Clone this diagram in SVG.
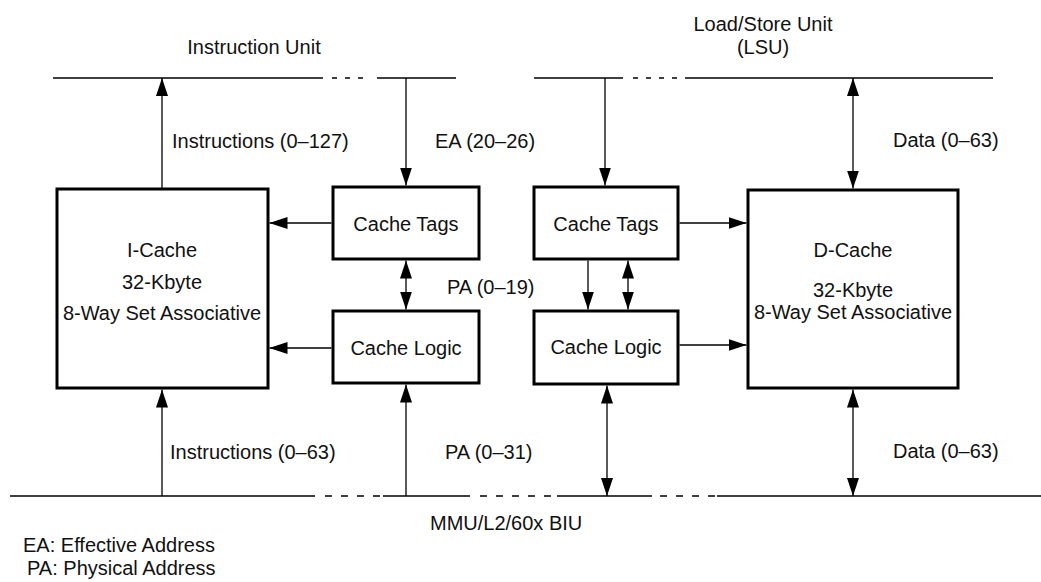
<svg xmlns="http://www.w3.org/2000/svg" width="1041" height="582" viewBox="0 0 1041 582">
<style>
text{font-family:"Liberation Sans",Arial,sans-serif;font-size:20px;fill:#111}
.c{text-anchor:middle}
.box{fill:#fff;stroke:#000;stroke-width:3}
.ln{stroke:#000;stroke-width:1.3;fill:none}
.d1{stroke-dasharray:5 8}
.d2{stroke-dasharray:7 9}
.a1{marker-end:url(#ah)}
.a2{marker-start:url(#ah);marker-end:url(#ah)}
</style>
<defs>
<marker id="ah" viewBox="0 0 18 12" refX="18" refY="6" markerWidth="18" markerHeight="12" markerUnits="userSpaceOnUse" orient="auto-start-reverse"><path d="M0,0 L18,6 L0,12 z" fill="#000"/></marker>
</defs>
<rect width="1041" height="582" fill="#fff"/>
<g id="buses">
<line class="ln" x1="53" y1="78" x2="323" y2="78"/>
<line class="ln d1" x1="332" y1="78" x2="366" y2="78"/>
<line class="ln" x1="377" y1="78" x2="456" y2="78"/>
<line class="ln" x1="534" y1="78" x2="623" y2="78"/>
<line class="ln d1" x1="633" y1="78" x2="679" y2="78"/>
<line class="ln" x1="685" y1="78" x2="993" y2="78"/>
<line class="ln" x1="10" y1="496" x2="315" y2="496"/>
<line class="ln d2" x1="325" y1="496" x2="381" y2="496"/>
<line class="ln" x1="383" y1="496" x2="470" y2="496"/>
<line class="ln d2" x1="480" y1="496" x2="554" y2="496"/>
<line class="ln" x1="557" y1="496" x2="652" y2="496"/>
<line class="ln d2" x1="660" y1="496" x2="716" y2="496"/>
<line class="ln" x1="717" y1="496" x2="1041" y2="496"/>
<text class="c" x="254" y="54">Instruction Unit</text>
<text class="c" x="763" y="31">Load/Store Unit</text>
<text class="c" x="763" y="54">(LSU)</text>
<text x="430" y="530">MMU/L2/60x BIU</text>
</g>
<g id="connectors">
<line class="ln a1" x1="162" y1="188" x2="162" y2="78"/>
<line class="ln a1" x1="406" y1="78" x2="406" y2="185.5"/>
<line class="ln a1" x1="331.5" y1="223" x2="269.5" y2="223"/>
<line class="ln a1" x1="331.5" y1="348" x2="269.5" y2="348"/>
<line class="ln a2" x1="406" y1="260.5" x2="406" y2="309.5"/>
<line class="ln a1" x1="162" y1="496" x2="162" y2="389.5"/>
<line class="ln a1" x1="406" y1="496" x2="406" y2="384.5"/>
<line class="ln a1" x1="605" y1="78" x2="605" y2="185.5"/>
<line class="ln a1" x1="679.5" y1="223" x2="746.5" y2="223"/>
<line class="ln a1" x1="679.5" y1="345" x2="746.5" y2="345"/>
<line class="ln a1" x1="588" y1="260.5" x2="588" y2="309.5"/>
<line class="ln a2" x1="628" y1="260.5" x2="628" y2="309.5"/>
<line class="ln a2" x1="853" y1="78" x2="853" y2="188.5"/>
<line class="ln a2" x1="607" y1="385.5" x2="607" y2="496"/>
<line class="ln a2" x1="853" y1="389.5" x2="853" y2="496"/>
<text x="172" y="148">Instructions (0–127)</text>
<text x="435" y="148">EA (20–26)</text>
<text x="893" y="147">Data (0–63)</text>
<text x="447" y="294">PA (0–19)</text>
<text x="170" y="459">Instructions (0–63)</text>
<text x="445" y="459">PA (0–31)</text>
<text x="893" y="458">Data (0–63)</text>
</g>
<g id="icache">
<rect class="box" x="57" y="189" width="211" height="199"/>
<text class="c" x="162" y="257">I-Cache</text>
<text class="c" x="162" y="289">32-Kbyte</text>
<text class="c" x="162" y="320">8-Way Set Associative</text>
</g>
<g id="itags">
<rect class="box" x="333" y="187" width="146" height="72"/>
<text class="c" x="406" y="231">Cache Tags</text>
</g>
<g id="ilogic">
<rect class="box" x="333" y="311" width="146" height="72"/>
<text class="c" x="406" y="355">Cache Logic</text>
</g>
<g id="dtags">
<rect class="box" x="534" y="187" width="144" height="72"/>
<text class="c" x="606" y="231">Cache Tags</text>
</g>
<g id="dlogic">
<rect class="box" x="534" y="311" width="144" height="73"/>
<text class="c" x="606" y="354">Cache Logic</text>
</g>
<g id="dcache">
<rect class="box" x="748" y="190" width="210" height="198"/>
<text class="c" x="853" y="257">D-Cache</text>
<text class="c" x="853" y="297">32-Kbyte</text>
<text class="c" x="853" y="319">8-Way Set Associative</text>
</g>
<g id="legend">
<text x="23" y="552">EA: Effective Address</text>
<text x="27" y="575">PA: Physical Address</text>
</g>
</svg>
